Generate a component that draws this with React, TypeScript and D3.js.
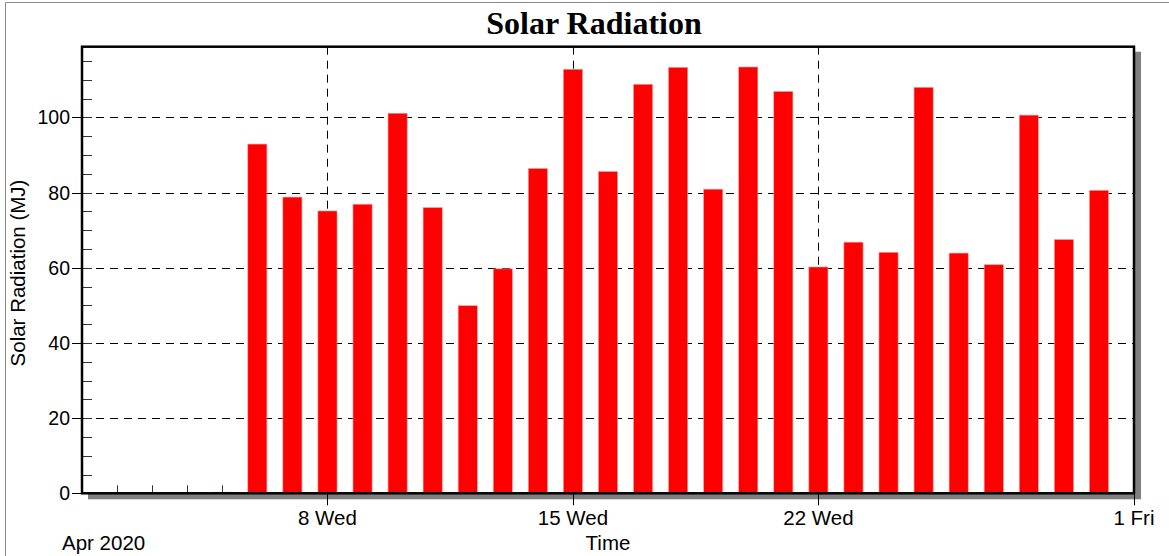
import * as d3 from 'd3';
import { useEffect } from 'react';

// Daily solar radiation, April 2020 (bars plotted at day boundaries)
const days = [
  '2020-04-05', '2020-04-06', '2020-04-07', '2020-04-08', '2020-04-09', '2020-04-10',
  '2020-04-11', '2020-04-12', '2020-04-13', '2020-04-14', '2020-04-15', '2020-04-16',
  '2020-04-17', '2020-04-18', '2020-04-19', '2020-04-20', '2020-04-21', '2020-04-22',
  '2020-04-23', '2020-04-24', '2020-04-25', '2020-04-26', '2020-04-27', '2020-04-28',
  '2020-04-29', '2020-04-30',
];
const radiation = [
  0.3, 92.9, 78.8, 75.1, 76.9, 101.1, 76.0, 49.9, 59.7, 86.4, 112.8, 85.6, 108.8,
  113.3, 80.9, 113.4, 106.9, 60.2, 66.8, 64.1, 108.0, 63.9, 60.8, 100.6, 67.5, 80.6,
];
const majorTicks = ['2020-04-08', '2020-04-15', '2020-04-22', '2020-05-01'];
const majorLabels = ['8 Wed', '15 Wed', '22 Wed', '1 Fri'];
const yTicks = [0, 20, 40, 60, 80, 100];

const WIDTH = 1169;
const HEIGHT = 556;
const PLOT = { left: 82, right: 1134, top: 46.7, bottom: 493.3 };
const FONT = 'Arial, "Liberation Sans", sans-serif';

const parse = (s: string) => new Date(s + 'T00:00:00');

export default function App() {
  useEffect(() => {
    document.body.style.margin = '0';
  }, []);

  const xScale = d3
    .scaleTime()
    .domain([parse('2020-04-01'), parse('2020-05-01')])
    .range([PLOT.left, PLOT.right]);

  const yScale = d3.scaleLinear().domain([0, 118.8]).range([PLOT.bottom, PLOT.top]);

  const dayWidth = xScale(parse('2020-04-02')) - xScale(parse('2020-04-01'));
  const barWidth = dayWidth * 0.545;

  const minorDays = d3.timeDay.range(parse('2020-04-01'), parse('2020-05-01'));
  const minorY = d3.range(0, 119, 5);

  return (
    <svg width={WIDTH} height={HEIGHT} style={{ display: 'block' }}>
      <rect width={WIDTH} height={HEIGHT} fill="#fff" />
      {/* outer frame */}
      <line x1={5.5} x2={WIDTH} y1={2.5} y2={2.5} stroke="#888" strokeWidth={1} />
      <line x1={5.5} x2={5.5} y1={2.5} y2={HEIGHT} stroke="#888" strokeWidth={1} />

      <text
        x={594}
        y={34}
        textAnchor="middle"
        fontFamily='"Liberation Serif", "Times New Roman", serif'
        fontWeight="bold"
        fontSize={32}
      >
        Solar Radiation
      </text>

      {/* shadow + plot background */}
      <rect
        x={PLOT.left + 6}
        y={PLOT.top + 5}
        width={PLOT.right - PLOT.left + 1}
        height={PLOT.bottom - PLOT.top + 1}
        fill="#808080"
      />
      <rect
        x={PLOT.left}
        y={PLOT.top}
        width={PLOT.right - PLOT.left}
        height={PLOT.bottom - PLOT.top}
        fill="#fff"
      />

      {/* grid */}
      {yTicks.slice(1).map((t) => (
        <line
          key={'gy' + t}
          x1={PLOT.left}
          x2={PLOT.right}
          y1={Math.round(yScale(t)) + 0.5}
          y2={Math.round(yScale(t)) + 0.5}
          stroke="#000"
          strokeDasharray="8,6"
          strokeWidth={1}
        />
      ))}
      {majorTicks.slice(0, 3).map((t) => (
        <line
          key={'gx' + t}
          x1={Math.round(xScale(parse(t))) + 0.5}
          x2={Math.round(xScale(parse(t))) + 0.5}
          y1={PLOT.top}
          y2={PLOT.bottom}
          stroke="#000"
          strokeDasharray="8,6"
          strokeWidth={1}
        />
      ))}

      {/* minor ticks */}
      {minorDays.map((d, i) => (
        <line
          key={'mx' + i}
          x1={Math.round(xScale(d)) + 0.5}
          x2={Math.round(xScale(d)) + 0.5}
          y1={PLOT.bottom}
          y2={PLOT.bottom - 8}
          stroke="#333"
          strokeWidth={1}
        />
      ))}
      {minorY.map((v) => (
        <line
          key={'my' + v}
          x1={PLOT.left}
          x2={PLOT.left + 10}
          y1={Math.round(yScale(v)) + 0.5}
          y2={Math.round(yScale(v)) + 0.5}
          stroke="#333"
          strokeWidth={1}
        />
      ))}

      {/* bars */}
      {days.map((d, i) => {
        const cx = xScale(parse(d));
        const y = yScale(radiation[i]);
        return (
          <rect
            key={d}
            x={cx - barWidth / 2}
            y={y}
            width={barWidth}
            height={PLOT.bottom - y}
            fill="#ff0000"
            stroke="#ff9a9a"
            strokeWidth={0.6}
          />
        );
      })}

      {/* plot frame */}
      <rect
        x={PLOT.left}
        y={PLOT.top}
        width={PLOT.right - PLOT.left}
        height={PLOT.bottom - PLOT.top}
        fill="none"
        stroke="#000"
        strokeWidth={2.5}
      />

      {/* y axis ticks and labels */}
      {yTicks.map((t) => (
        <g key={'yt' + t}>
          <line
            x1={PLOT.left - 10}
            x2={PLOT.left}
            y1={Math.round(yScale(t)) + 0.5}
            y2={Math.round(yScale(t)) + 0.5}
            stroke="#000"
            strokeWidth={1}
          />
          <text
            x={PLOT.left - 12}
            y={yScale(t)}
            dy="0.36em"
            textAnchor="end"
            fontFamily={FONT}
            fontSize={19.5}
          >
            {t}
          </text>
        </g>
      ))}

      {/* x axis ticks and labels */}
      {majorTicks.map((t, i) => (
        <g key={'xt' + t}>
          <line
            x1={Math.round(xScale(parse(t))) + 0.5}
            x2={Math.round(xScale(parse(t))) + 0.5}
            y1={PLOT.bottom}
            y2={PLOT.bottom + 12}
            stroke="#000"
            strokeWidth={1}
          />
          <text
            x={xScale(parse(t))}
            y={525}
            textAnchor="middle"
            fontFamily={FONT}
            fontSize={20.5}
          >
            {majorLabels[i]}
          </text>
        </g>
      ))}

      <text x={62} y={550} fontFamily={FONT} fontSize={20.5}>
        Apr 2020
      </text>
      <text
        x={(PLOT.left + PLOT.right) / 2}
        y={550}
        textAnchor="middle"
        fontFamily={FONT}
        fontSize={20.5}
      >
        Time
      </text>
      <text
        transform={`translate(25, ${(PLOT.top + PLOT.bottom) / 2 + 3}) rotate(-90)`}
        textAnchor="middle"
        fontFamily={FONT}
        fontSize={20.5}
      >
        Solar Radiation (MJ)
      </text>
    </svg>
  );
}
